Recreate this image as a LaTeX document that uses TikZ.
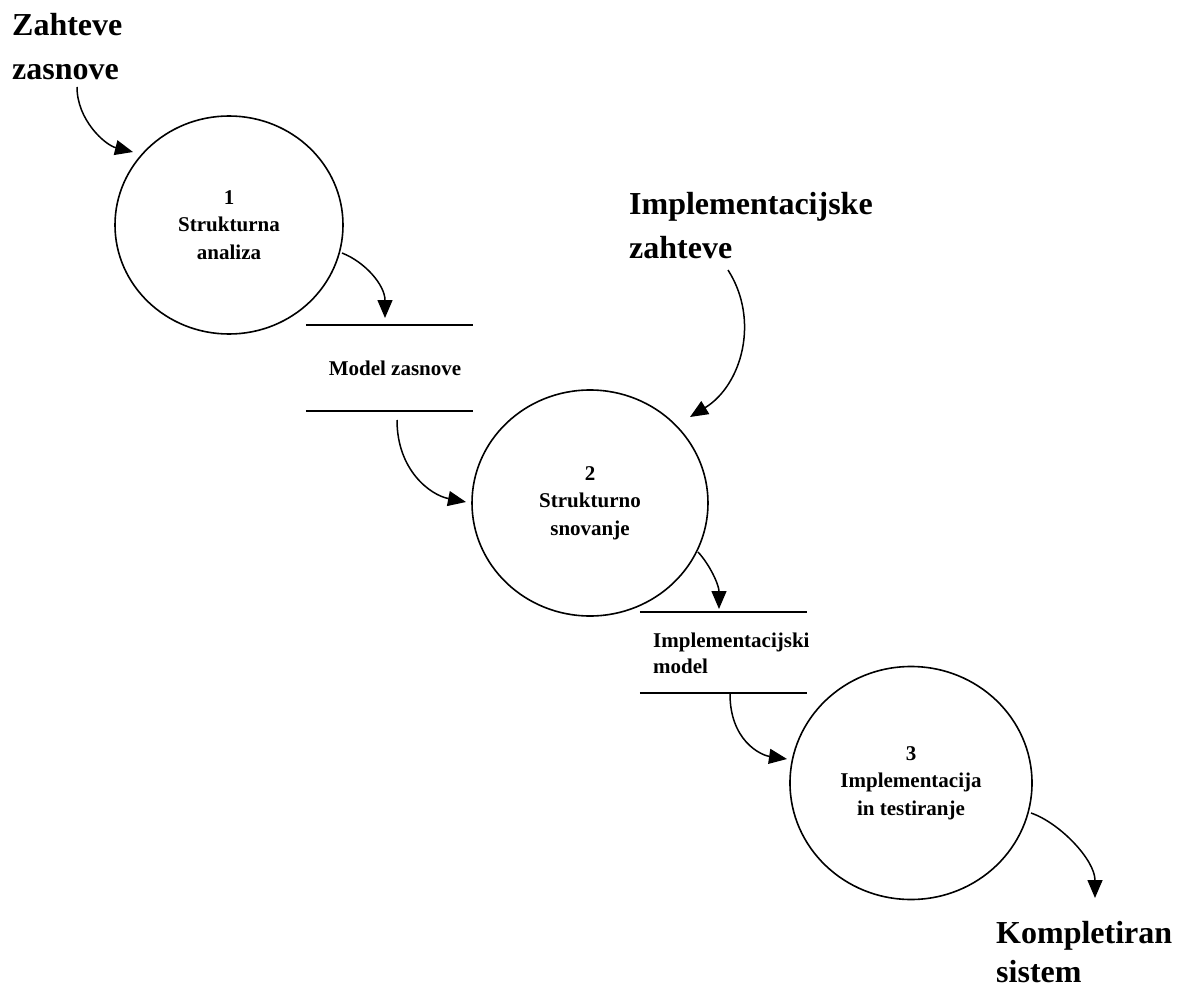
\documentclass[tikz,border=0pt]{standalone}
\usepackage{fontspec}
\setmainfont{Liberation Serif}
\usetikzlibrary{shapes.geometric,arrows.meta}

\tikzset{
  process/.style={ellipse, draw, line width=1.6pt, inner sep=0pt, align=center,
                  font=\bfseries\fontsize{21}{27.5}\selectfont},
  storebox/.style={rectangle, inner sep=0pt},
  storeline/.style={line width=2.4pt},
  smalltext/.style={inner sep=0pt, font=\bfseries\fontsize{21}{26}\selectfont},
  bigtext/.style={inner sep=0pt, align=left, anchor=north west,
                  font=\bfseries\fontsize{32}{44}\selectfont},
  flow/.style={line width=1.5pt, -{Triangle[length=18pt,width=15pt]}}
}

\begin{document}
\begin{tikzpicture}[x=1pt,y=-1pt]
\useasboundingbox (0,0) rectangle (1181,987);

% processes
\node[process, minimum width=228pt, minimum height=218pt] (p1) at (229,225)
  {1\\Strukturna\\analiza};
\node[process, minimum width=236pt, minimum height=226pt] (p2) at (590,503)
  {2\\Strukturno\\snovanje};
\node[process, minimum width=242pt, minimum height=233pt] (p3) at (911,783)
  {3\\Implementacija\\in testiranje};

% data stores
\node[storebox, minimum width=167pt, minimum height=86pt] (s1) at (389.5,368) {};
\draw[storeline] (s1.north west) -- (s1.north east);
\draw[storeline] (s1.south west) -- (s1.south east);
\node[smalltext, anchor=base] (s1t) at (395,375) {Model zasnove};

\node[storebox, minimum width=167pt, minimum height=81pt] (s2) at (723.5,652.5) {};
\draw[storeline] (s2.north west) -- (s2.north east);
\draw[storeline] (s2.south west) -- (s2.south east);
\node[smalltext, align=left, anchor=north west] (s2t) at (653,633)
  {Implementacijski\\model};

% external entities
\node[bigtext] (e1) at (12,13) {Zahteve\\zasnove};
\node[bigtext] (e2) at (629,192) {Implementacijske\\zahteve};
\node[bigtext, font=\bfseries\fontsize{32}{39}\selectfont] (e3) at (996,921)
  {Kompletiran\\sistem};

% connector end points
\coordinate (a1s) at (77,87);    \coordinate (a1e) at (133,152);
\coordinate (a2s) at (342,253);  \coordinate (a2e) at (385,318);
\coordinate (a3s) at (397,420);  \coordinate (a3e) at (466,502);
\coordinate (a4s) at (728,270);  \coordinate (a4e) at (690,417);
\coordinate (a5s) at (698,552);  \coordinate (a5e) at (719,609);
\coordinate (a6s) at (730,694);  \coordinate (a6e) at (787,759);
\coordinate (a7s) at (1031,813); \coordinate (a7e) at (1095,898);

% flows
\draw[flow] (a1s) .. controls (77,120) and (105,145) .. (a1e);
\draw[flow] (a2s) .. controls (365,262) and (385,285) .. (a2e);
\draw[flow] (a3s) .. controls (397,470) and (430,495) .. (a3e);
\draw[flow] (a4s) .. controls (760,320) and (742,385) .. (a4e);
\draw[flow] (a5s) .. controls (710,565) and (719,585) .. (a5e);
\draw[flow] (a6s) .. controls (730,740) and (760,755) .. (a6e);
\draw[flow] (a7s) .. controls (1060,823) and (1095,860) .. (a7e);
\end{tikzpicture}
\end{document}
